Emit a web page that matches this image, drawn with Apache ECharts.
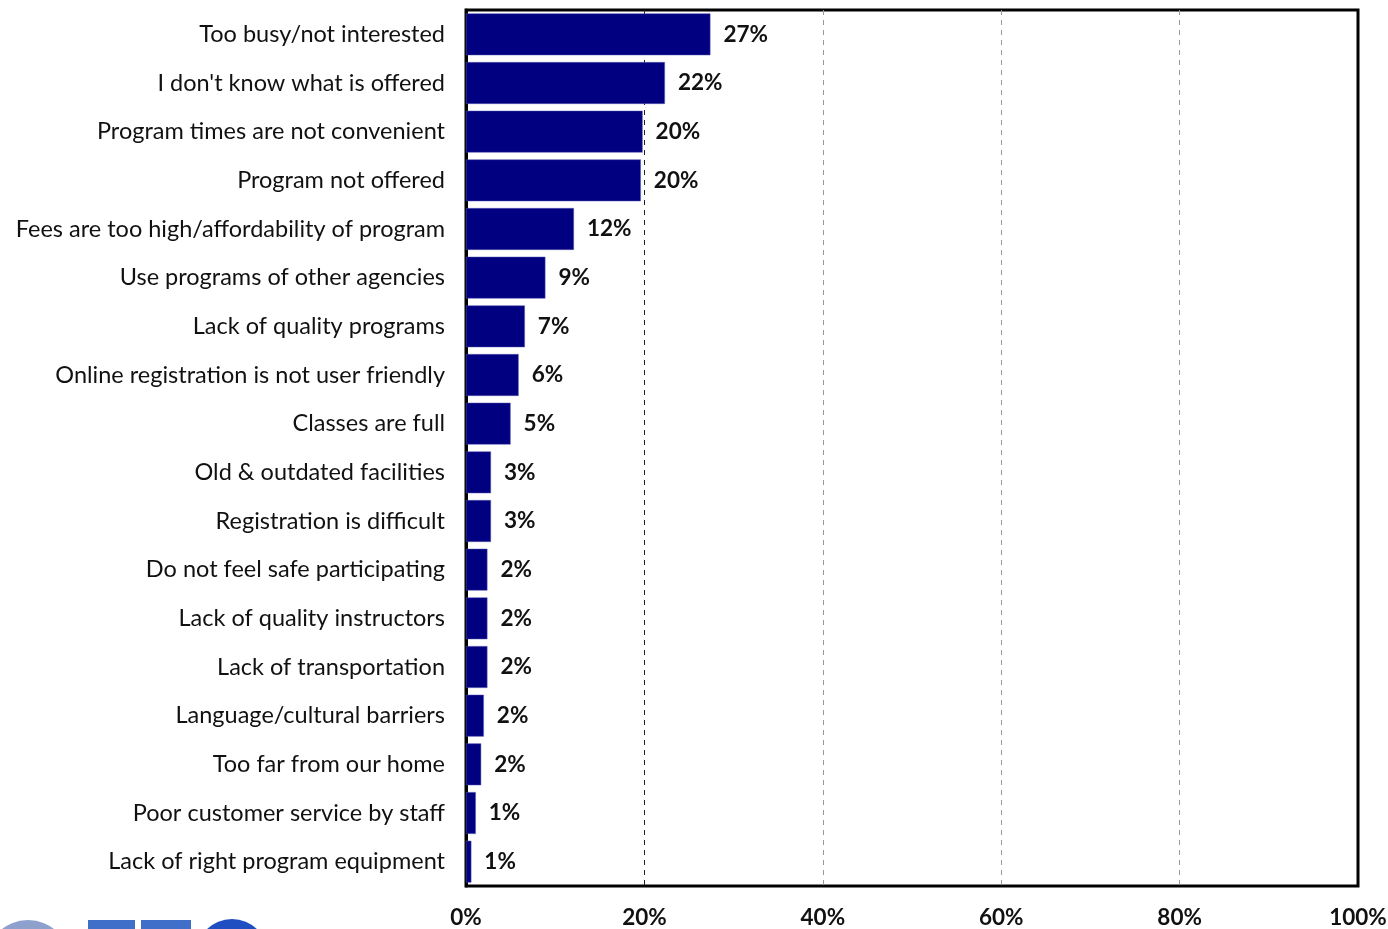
<!DOCTYPE html>
<html>
<head>
<meta charset="utf-8">
<script src="https://cdn.jsdelivr.net/npm/echarts@6/dist/echarts.min.js"></script>
<style>
html,body{margin:0;padding:0;background:#fff;}
#chart{width:1388px;height:929px;}
</style>
</head>
<body>
<div id="chart"></div>
<script>
const categories = [
  "Too busy/not interested",
  "I don't know what is offered",
  "Program times are not convenient",
  "Program not offered",
  "Fees are too high/affordability of program",
  "Use programs of other agencies",
  "Lack of quality programs",
  "Online registration is not user friendly",
  "Classes are full",
  "Old & outdated facilities",
  "Registration is difficult",
  "Do not feel safe participating",
  "Lack of quality instructors",
  "Lack of transportation",
  "Language/cultural barriers",
  "Too far from our home",
  "Poor customer service by staff",
  "Lack of right program equipment"
];
const values = [27.4, 22.3, 19.8, 19.6, 12.1, 8.9, 6.6, 5.9, 5.0, 2.8, 2.8, 2.4, 2.4, 2.4, 2.0, 1.7, 1.1, 0.6];
const tickValues = [0, 20, 40, 60, 80, 100];

const chart = echarts.init(document.getElementById('chart'), null, {renderer: 'canvas'});
const font = 'Lato, "Liberation Sans", sans-serif';
chart.setOption({
  animation: false,
  grid: {
    left: 466, top: 10, width: 892, height: 876,
    outerBoundsMode: 'none', containLabel: false,
    show: true, borderColor: '#000', borderWidth: 3, backgroundColor: 'transparent'
  },
  xAxis: {
    type: 'value', min: tickValues[0], max: tickValues[tickValues.length - 1], interval: 20,
    axisLine: {show: false},
    axisTick: {show: false},
    axisLabel: {
      formatter: v => v + '%', fontFamily: font, fontWeight: 'bold',
      fontSize: 22.5, color: '#111', margin: 20
    },
    splitLine: {
      show: true,
      lineStyle: {
        type: [5, 5], width: 1,
        color: ['transparent', '#222', '#999', '#999', '#999', 'transparent']
      }
    }
  },
  yAxis: {
    type: 'category', data: categories, inverse: true,
    axisLine: {show: true, lineStyle: {color: '#000', width: 3}},
    axisTick: {show: false},
    axisLabel: {fontFamily: font, fontSize: 23.5, color: '#111', margin: 21, padding: [8, 0, 0, 0]}
  },
  series: [{
    type: 'bar', data: values, barCategoryGap: '14%',
    itemStyle: {color: '#000080', borderColor: '#5a5ab0', borderWidth: 0.5},
    label: {
      show: true, position: 'right', distance: 13,
      formatter: p => Math.round(p.value) + '%',
      fontFamily: font, fontWeight: 'bold', fontSize: 22.5, color: '#111', padding: [5, 0, 0, 0]
    }
  }],
  graphic: [
    {type: 'circle', shape: {cx: 28, cy: 962, r: 42}, style: {fill: '#8ea0cc'}},
    {type: 'rect', shape: {x: 88, y: 920, width: 47, height: 20}, style: {fill: '#3f6fc8'}},
    {type: 'rect', shape: {x: 141, y: 920, width: 50, height: 20}, style: {fill: '#3f6fc8'}},
    {type: 'circle', shape: {cx: 232, cy: 955, r: 36}, style: {fill: '#1f4fc0'}}
  ]
});
</script>
</body>
</html>
